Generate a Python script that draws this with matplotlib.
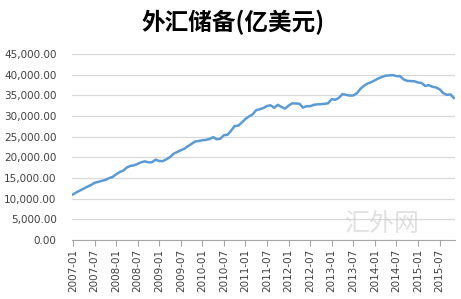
import matplotlib.pyplot as plt

# 外汇储备 (亿美元), 2007-01 .. 2015-11
months = [f"{y}-{m:02d}" for y in range(2007, 2016) for m in range(1, 13)][:107]
reserves = [
    11047, 11573, 12020, 12470, 12926, 13326, 13853, 14086, 14336, 14545, 14969, 15282,
    15898, 16471, 16822, 17566, 17969, 18088, 18452, 18842, 19056, 18797, 18850, 19460,
    19134, 19116, 19537, 20089, 20898, 21316, 21746, 22110, 22726, 23283, 23856, 23992,
    24152, 24247, 24471, 24905, 24395, 24543, 25385, 25480, 26483, 27608, 27680, 28473,
    29317, 29914, 30447, 31458, 31664, 31975, 32452, 32625, 32017, 32738, 32209, 31811,
    32536, 33096, 33050, 32989, 32061, 32400, 32400, 32729, 32851, 32874, 32977, 33116,
    34100, 33954, 34426, 35345, 35148, 34967, 35000, 35530, 36627, 37366, 37895, 38213,
    38666, 39137, 39481, 39788, 39838, 39932, 39662, 39688, 38877, 38529, 38473, 38430,
    38134, 38015, 37301, 37481, 37111, 36938, 36513, 35574, 35141, 35255, 34383,
]
yticks = list(range(0, 45001, 5000))

fig = plt.figure(figsize=(4.61, 2.99), dpi=100)
ax = fig.add_axes([0.156, 0.197, 0.831, 0.622])

x = list(range(len(reserves)))
ax.plot(x, reserves, color='#5b9bd5', linewidth=1.8)

ax.set_ylim(0, 45000)
ax.set_xlim(-0.3, len(reserves) - 0.7)
ax.set_yticks(yticks)
ax.set_yticklabels([f"{v:,.2f}" for v in yticks], fontsize=7.5, color='#404040')
ax.grid(axis='y', color='#d9d9d9', linewidth=0.9)
ax.set_axisbelow(True)

xt = list(range(0, len(reserves), 6))
ax.set_xticks(xt)
ax.set_xticklabels([months[i] for i in xt], rotation=90, fontsize=7.5, color='#404040')
ax.tick_params(axis='y', length=0, pad=11)
ax.tick_params(axis='x', length=4, color='#a6a6a6', direction='out', pad=2)

for s in ['top', 'right', 'left']:
    ax.spines[s].set_visible(False)
ax.spines['bottom'].set_color('#a6a6a6')

fig.text(0.505, 0.926, '外汇储备(亿美元)', ha='center', va='center', fontsize=17,
         fontweight='bold', family=['Noto Sans CJK SC', 'DejaVu Sans'])

# watermark, kept just above the axis so it does not cover the tick labels
fig.text(0.83, 0.25, '汇外网', ha='center', va='center', fontsize=18, color='#cccccc',
         alpha=0.6, family=['Noto Sans CJK SC', 'DejaVu Sans'])

fig.savefig('out.png', dpi=100)
